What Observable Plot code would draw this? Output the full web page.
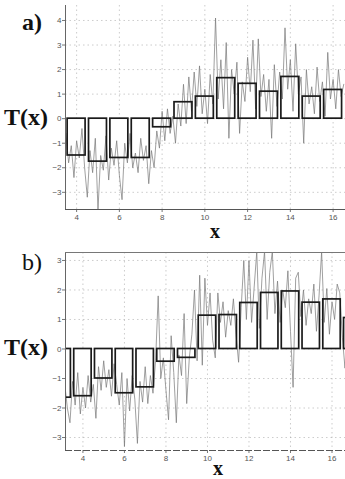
<!DOCTYPE html>
<html>
<head>
<meta charset="utf-8">
<script src="https://cdn.jsdelivr.net/npm/d3@7"></script>
<script src="https://cdn.jsdelivr.net/npm/@observablehq/plot@0.6"></script>
<style>
  html, body { margin: 0; padding: 0; background: #fff; }
  #wrap { position: relative; width: 345px; height: 479px; overflow: hidden; }
  .panel { position: absolute; left: 0; }
  .lbl { position: absolute; font-family: "Liberation Serif", "DejaVu Serif", serif; color: #111; line-height: 1; white-space: nowrap; }
  .xl { font-size: 20px; font-weight: bold; line-height: 20px; }
</style>
</head>
<body>
<div id="wrap">
  <div id="pa" class="panel" style="top:0px"></div>
  <div id="pb" class="panel" style="top:240px"></div>
  <div class="lbl" style="left:22px; top:10px; font-size:24px; font-weight:bold;">a)</div>
  <div class="lbl" style="left:4px; top:105px; font-size:24px; font-weight:bold;">T(x)</div>
  <div class="lbl xl" style="left:210px; top:221px;">x</div>
  <div class="lbl" style="left:22px; top:250px; font-size:24px;">b)</div>
  <div class="lbl" style="left:4px; top:335px; font-size:24px; font-weight:bold;">T(x)</div>
  <div class="lbl xl" style="left:213px; top:457.5px;">x</div>
</div>
<script>
// ---- data ----
const xTicks = [4, 6, 8, 10, 12, 14, 16];
const yTicksA = [-3, -2, -1, 0, 1, 2, 3, 4];
const yTicksB = [-3, -2, -1, 0, 1, 2, 3];

const barPosA = [4, 5, 6, 7, 8, 9, 10, 11, 12, 13, 14, 15, 16];
const barValA = [-1.5, -1.75, -1.6, -1.6, -0.35, 0.67, 0.9, 1.65, 1.42, 1.1, 1.7, 0.9, 1.17];

const barPosB = [3, 4, 5, 6, 7, 8, 9, 10, 11, 12, 13, 14, 15, 16, 17];
const barValB = [-1.65, -1.6, -1.0, -1.5, -1.3, -0.43, -0.3, 1.13, 1.15, 1.56, 1.9, 1.95, 1.57, 1.68, 1.05];

// noisy trace, sampled every 0.125 in x
const noiseStartA = 3.5, noiseStartB = 3.125, noiseStep = 0.125;
const noiseA = [
  -0.6, -1.8, -1.1, -2.4, -0.9, -1.6, -0.4, -2.0,
  -3.2, -1.3, -2.2, -0.8, -3.7, -1.5, -2.1, -0.7,
  -2.5, -1.2, -1.9, -0.9, -2.3, -3.3, -1.0, -1.8,
  -0.6, -2.0, -1.4, -2.2, -0.8, -1.7, -1.1, -2.65,
  -1.3, -2.0, -0.5, -1.2, 0.3, -0.9, 0.4, -0.6,
  0.1, -1.0, 0.6, -0.3, 1.4, -0.2, 1.7, 0.3,
  1.9, 0.5, 2.15, 0.2, 1.2, -0.2, 1.8, 0.6,
  4.1, 0.8, 2.4, 0.4, 3.1, -0.8, 2.0, 1.0,
  2.3, -0.6, 1.5, 0.7, 2.5, 1.1, 3.2, 0.4,
  3.25, 0.9, 1.8, 0.3, 1.6, -0.8, 2.2, 0.5,
  1.9, 0.8, 3.7, 1.2, 2.4, 0.3, 3.05, 1.0,
  1.7, -1.0, 2.0, 0.6, 1.3, 0.2, 2.1, 0.7,
  1.5, 0.1, 2.7, 0.8, 1.6, 0.4, 2.0, 0.9, 1.4
];
const noiseB = [
  -1.2, -2.0, -2.5, -1.1, -1.9, -0.8, -2.2, -1.3,
  -2.0, -0.9, -1.8, -1.2, -2.35, -0.6, -1.4, -0.4,
  -1.3, -0.7, -1.6, -0.5, -1.2, -1.9, -0.8, -3.3,
  -1.0, -2.1, -0.9, -1.7, -3.2, -1.1, -1.8, -0.6,
  -1.85, -0.9, -1.5, -0.4, 1.8, -1.0, -0.3, -1.4,
  -2.4, 0.45, -0.8, -2.5, -0.2, -0.9, 1.2, -1.85,
  -0.3, 0.5, 2.0, -0.4, 2.5, -0.55, 2.4, 0.8,
  1.9, 0.3, -0.3, 1.9, 0.9, 1.6, 0.4, 1.3,
  0.8, 1.7, 0.5, -0.45, 1.4, 3.0, 1.0, 3.0,
  0.9, 2.1, 3.3, 0.7, 2.4, 3.3, 1.0, 2.6,
  3.3, 1.2, 2.3, 0.9, 2.0, 1.4, 2.65, 0.6,
  -1.3, 2.4, 2.6, 1.1, 2.0, 0.8, 1.7, 1.2,
  2.2, 0.6, 1.8, 3.3, 0.9, 2.05, 0.5, 1.6,
  1.0, 2.2, 1.9, 0.4, -0.65, 1.1
];

// ---- build ----
const halfW = 0.42;
function bars(pos, val) { return pos.map((p, i) => ({p, v: val[i]})); }
function trace(start, vals) { return vals.map((v, i) => ({x: start + i * noiseStep, y: v})); }

function panel(opts) {
  const {height, mt, mb, xDom, yDom, yTicks, barData, noiseData, topLine, dashedBottom} = opts;
  const marks = [
    Plot.gridX(xTicks, {stroke: "#aaa", strokeOpacity: 0.6, strokeDasharray: "1.5,3"}),
    Plot.gridY(yTicks, {stroke: "#aaa", strokeOpacity: 0.6, strokeDasharray: "1.5,3"}),
    Plot.rect(barData, {x1: d => d.p - halfW, x2: d => d.p + halfW, y1: 0, y2: "v", fill: "white", clip: true}),
    Plot.line(noiseData, {x: "x", y: "y", stroke: "#777", strokeWidth: 0.7, clip: true}),
    Plot.rect(barData, {x1: d => d.p - halfW, x2: d => d.p + halfW, y1: 0, y2: "v", fill: "none", stroke: "#1a1a1a", strokeWidth: 1.7, clip: true}),
    Plot.axisX(xTicks, {tickSize: 3, tickPadding: 2, fontSize: 8, fill: "#555", stroke: "#777", label: null}),
    Plot.axisY(yTicks, {tickSize: 3, tickPadding: 1, fontSize: 8, fill: "#555", stroke: "#777", label: null}),
    Plot.ruleX([xDom[0]], {stroke: "#666", strokeWidth: 1}),
    Plot.ruleY([yDom[0]], {stroke: "#555", strokeWidth: 1.2, strokeDasharray: dashedBottom ? "7,2" : null})
  ];
  if (topLine) marks.push(Plot.ruleY([yDom[1]], {stroke: "#777", strokeWidth: 1}));
  return Plot.plot({
    width: 345, height,
    marginLeft: 65, marginRight: 0, marginTop: mt, marginBottom: mb,
    style: {fontFamily: "'Liberation Sans', Arial, sans-serif", background: "white"},
    x: {domain: xDom, axis: null},
    y: {domain: yDom, axis: null},
    marks
  });
}

document.getElementById("pa").appendChild(panel({
  height: 240, mt: 5, mb: 31,
  xDom: [3.48, 16.58], yDom: [-3.70, 4.61], yTicks: yTicksA,
  barData: bars(barPosA, barValA), noiseData: trace(noiseStartA, noiseA),
  topLine: false, dashedBottom: false
}));
document.getElementById("pb").appendChild(panel({
  height: 239, mt: 12, mb: 29,
  xDom: [3.16, 16.65], yDom: [-3.44, 3.27], yTicks: yTicksB,
  barData: bars(barPosB, barValB), noiseData: trace(noiseStartB, noiseB),
  topLine: true, dashedBottom: true
}));
</script>
</body>
</html>
